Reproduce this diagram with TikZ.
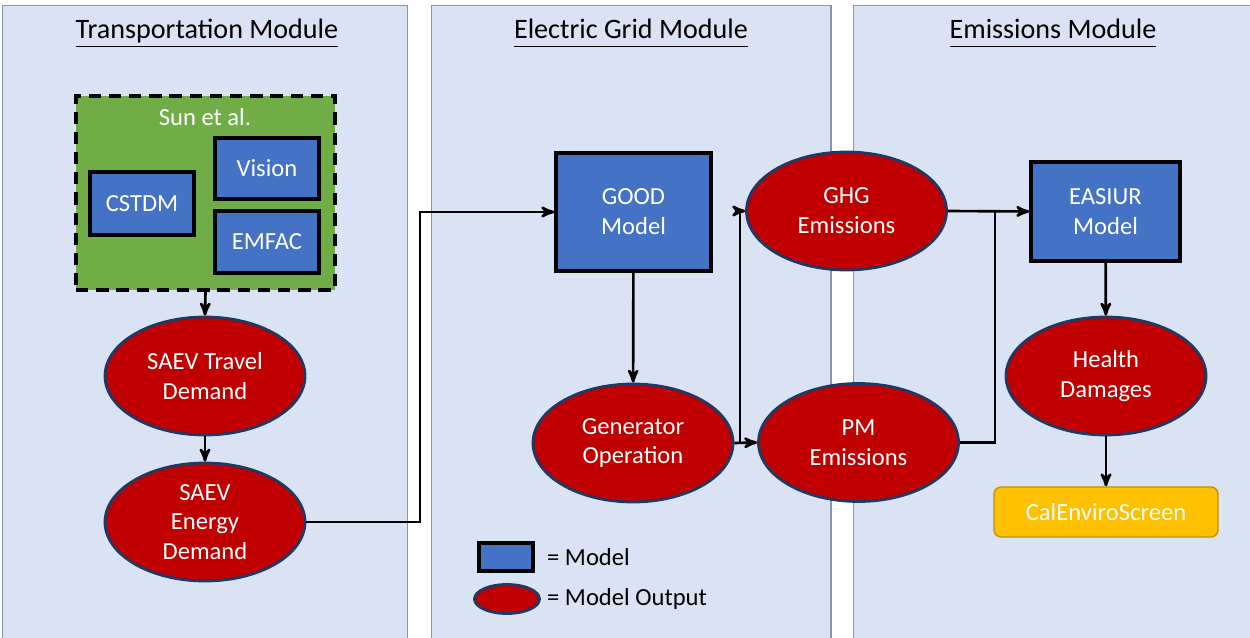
\documentclass[tikz,border=0pt]{standalone}
\usepackage{fontspec}
\setmainfont{Carlito}
\usetikzlibrary{arrows,shapes.geometric}
\usepackage{color}

\definecolor{panelblue}{HTML}{DAE3F3}
\definecolor{paneledge}{HTML}{8497B0}
\definecolor{modelblue}{HTML}{4472C4}
\definecolor{outred}{HTML}{C00000}
\definecolor{outedge}{HTML}{203864}
\definecolor{groupgreen}{HTML}{70AD47}
\definecolor{screengold}{HTML}{FFC000}
\definecolor{screenedge}{HTML}{BF9000}

\begin{document}
\begin{tikzpicture}[x=0.02cm,y=-0.02cm,>=stealth',line width=1.5pt,
  link/.style={->,shorten >=0pt},
  module/.style={rectangle,draw=paneledge,fill=panelblue,line width=0.6pt,minimum height=12.8cm},
  title/.style={font=\fontsize{16}{19}\selectfont,text=black,anchor=base},
  model node/.style={rectangle,draw=black,fill=modelblue,line width=2pt,text=white,align=center,font=\fontsize{14}{17}\selectfont},
  output node/.style={ellipse,draw=outedge,fill=outred,line width=1.6pt,text=white,align=center,inner sep=0pt,
    minimum width=4cm,minimum height=2.36cm,font=\fontsize{14}{17}\selectfont}]
  \useasboundingbox (0,0) rectangle (1250,638);

  % modules
  \node[module,minimum width=8.12cm] (Transport) at (205,325) {};
  \node[module,minimum width=8cm] (Grid) at (631,325) {};
  \node[module,minimum width=8.04cm] (Emission) at (1054,325) {};
  \node[title] (TransportTitle) at (207,39) {\underline{Transportation Module}};
  \node[title] (GridTitle) at (631,39) {\underline{Electric Grid Module\vphantom{p}}};
  \node[title] (EmissionTitle) at (1053,39) {\underline{Emissions Module\vphantom{p}}};

  % transportation
  \node[rectangle,draw=black,dash pattern=on 7pt off 4.5pt,fill=groupgreen,line width=2pt,minimum width=5.18cm,minimum height=3.88cm] (Sun) at (205.5,193) {};
  \node[text=white,font=\fontsize{14}{17}\selectfont] (SunLabel) at (205,117) {Sun et al.};
  \node[model node,minimum width=2.08cm,minimum height=1.26cm] (CSTDM) at (142,203.5) {CSTDM};
  \node[model node,minimum width=2.08cm,minimum height=1.22cm] (Vision) at (267,168.5) {Vision};
  \node[model node,minimum width=2.08cm,minimum height=1.24cm] (EMFAC) at (267,242) {EMFAC};
  \node[output node] (Travel) at (205,376) {SAEV Travel\\Demand};
  \node[output node] (Energy) at (205,522) {SAEV\\Energy\\Demand};

  % electric grid
  \node[model node,minimum width=3.1cm,minimum height=2.36cm] (GOOD) at (633.5,212) {GOOD\\Model};
  \node[output node] (Generator) at (633,443) {Generator\\Operation};
  \node[output node] (GHG) at (846.5,211) {GHG\\Emissions};
  \node[output node] (PM) at (858.5,442.5) {PM\\Emissions};

  % emissions
  \node[model node,minimum width=2.98cm,minimum height=1.98cm] (EASIUR) at (1105.5,211.5) {EASIUR\\Model};
  \node[output node] (Health) at (1106,376) {Health\\Damages};
  \node[rectangle,rounded corners=4pt,draw=screenedge,fill=screengold,line width=0.8pt,text=white,
    minimum width=4.48cm,minimum height=1cm,font=\fontsize{14}{17}\selectfont] (Screen) at (1106,512) {CalEnviroScreen};

  % legend
  \node[rectangle,draw=black,fill=modelblue,line width=2pt,minimum width=1.08cm,minimum height=0.56cm] (KeyModel) at (506,557) {};
  \node[ellipse,draw=outedge,fill=outred,line width=1.6pt,minimum width=1.3cm,minimum height=0.58cm,inner sep=0pt] (KeyOutput) at (507,599) {};
  \node[anchor=west,font=\fontsize{14}{17}\selectfont] (KeyModelText) at (540,557) {= Model};
  \node[anchor=west,font=\fontsize{14}{17}\selectfont] (KeyOutputText) at (540,599) {= Model Output};

  % connectors
  \coordinate (BusA) at (420,300);
  \coordinate (BusB) at (740,443);
  \coordinate (BusC) at (995,300);

  \draw[link] (Sun.south) -- (Travel.north);
  \draw[link] (Travel) -- (Energy);
  \draw[link] (Energy.east) -| (BusA) |- (GOOD.west);
  \draw[link] (GOOD) -- (Generator);
  \draw[link] (Generator.east) -- (PM.west);
  \draw[link] (BusB) |- (GHG.west);
  \draw[link] (GHG.east) -- (EASIUR.west);
  \draw (PM.east) -| (BusC) -- (BusC |- EASIUR.west);
  \draw[link] (EASIUR) -- (Health);
  \draw[link] (Health) -- (Screen);

\end{tikzpicture}
\end{document}
